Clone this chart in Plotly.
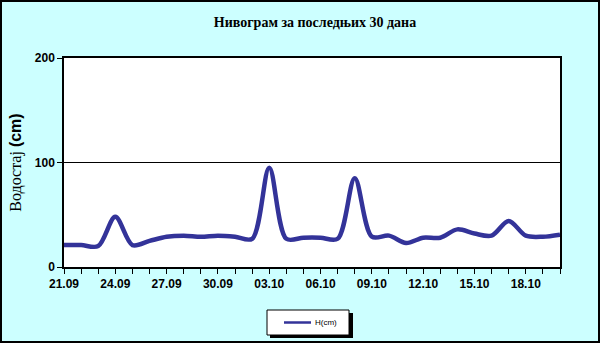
import plotly.graph_objects as go

dates = ["21.09","22.09","23.09","24.09","25.09","26.09","27.09","28.09","29.09","30.09",
         "01.10","02.10","03.10","04.10","05.10","06.10","07.10","08.10","09.10","10.10",
         "11.10","12.10","13.10","14.10","15.10","16.10","17.10","18.10","19.10","20.10"]
levels = [21, 21, 20, 48, 21, 25, 29, 30, 29, 30,
          29, 27, 95, 27, 28, 28, 27, 85, 29, 30,
          23, 28, 28, 36, 32, 30, 44, 30, 29, 31]
series_name = "H(cm)"
ytick_vals = [0, 100, 200]

idx = list(range(len(dates)))

fig = go.Figure()
fig.add_trace(go.Scatter(x=idx, y=levels, mode="lines", name=series_name, showlegend=False,
                         line=dict(color="#333399", width=4.5, shape="spline", smoothing=0.9)))

L, R, T, B = 64, 40, 58, 76
W, H = 600, 343
pw, ph = W - L - R, H - T - B

def px(x):
    return (x - L) / pw

def py(y):
    return (H - B - y) / ph

fig.update_layout(
    width=W, height=H,
    margin=dict(l=L, r=R, t=T, b=B, autoexpand=False),
    paper_bgcolor="#CCFFFF",
    plot_bgcolor="white",
    title=dict(text="Нивограм за последњих 30 дана",
               x=315/W, xanchor="center", y=1 - 22/H, yanchor="middle",
               font=dict(family="Liberation Serif", size=14, color="black", weight="bold")),
    showlegend=False,
    xaxis=dict(range=[0, 29], tickmode="array", tickvals=idx[::3], ticktext=dates[::3],
               showgrid=False, zeroline=False, showline=True, linecolor="black", linewidth=1.5,
               mirror=True, ticks="outside", ticklen=5, tickcolor="black",
               minor=dict(dtick=1, ticks="outside", ticklen=5, tickcolor="black", showgrid=False),
               tickfont=dict(family="Liberation Sans", size=12, color="black", weight="bold")),
    yaxis=dict(range=[0, 200], tickvals=ytick_vals, showgrid=True, gridcolor="black", gridwidth=1,
               zeroline=False, showline=True, linecolor="black", linewidth=1.5, mirror=True,
               ticks="outside", ticklen=5, tickcolor="black",
               tickfont=dict(family="Liberation Sans", size=12, color="black", weight="bold"),
               title=dict(text="Водостај <span style='font-family:Liberation Sans;font-weight:bold'>(cm)</span>",
                          standoff=9,
                          font=dict(family="Liberation Serif", size=16, color="black"))),
)

# legend shadow + box
fig.add_shape(type="rect", xref="paper", yref="paper",
              x0=px(270), x1=px(353), y0=py(338), y1=py(313),
              fillcolor="black", line=dict(width=0), layer="above")
fig.add_shape(type="rect", xref="paper", yref="paper",
              x0=px(267), x1=px(349), y0=py(335), y1=py(310),
              fillcolor="white", line=dict(color="black", width=1), layer="above")
fig.add_shape(type="line", xref="paper", yref="paper",
              x0=px(284), x1=px(311), y0=py(322.5), y1=py(322.5),
              line=dict(color="#333399", width=2.5), layer="above")
fig.add_annotation(xref="paper", yref="paper", x=px(313), y=py(322.5), xanchor="left", yanchor="middle",
                   text=series_name, showarrow=False,
                   font=dict(family="Liberation Sans", size=8, color="black"))
# outer border
fig.add_shape(type="rect", xref="paper", yref="paper",
              x0=px(1), x1=px(W - 1), y0=py(H - 1), y1=py(1),
              line=dict(color="black", width=2), fillcolor="rgba(0,0,0,0)", layer="above")

fig.write_html("out.html")
